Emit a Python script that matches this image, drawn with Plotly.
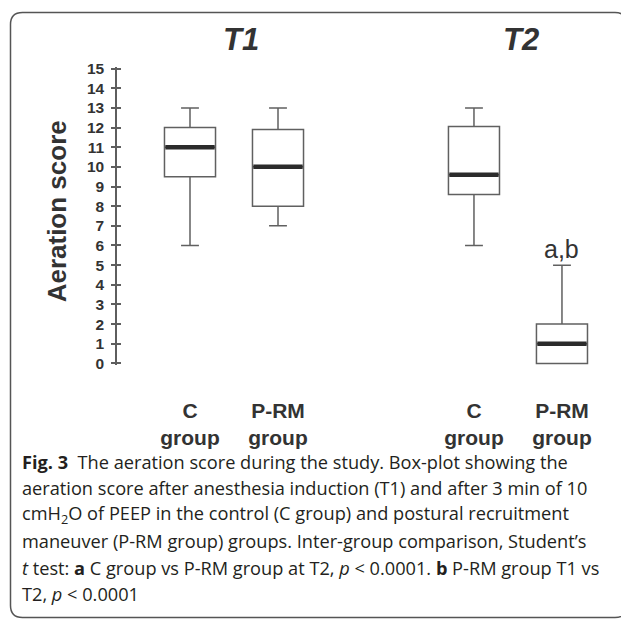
import plotly.graph_objects as go

# ---- data ----
groups = ["C group T1", "P-RM group T1", "C group T2", "P-RM group T2"]
positions = [1.0, 2.0, 4.227, 5.227]
lower_fence = [6, 7, 6, 0]
q1_vals = [9.5, 8, 8.6, 0]
medians = [11, 10, 9.6, 1]
q3_vals = [12, 11.9, 12.05, 2]
upper_fence = [13, 13, 13, 5]
x_tick_labels = ["C<br>group", "P-RM<br>group", "C<br>group", "P-RM<br>group"]
y_ticks = list(range(0, 16))
time_labels = ["T1", "T2"]
sig_label = "a,b"
caption_lines = [
    "<b>Fig. 3</b>  The aeration score during the study. Box-plot showing the",
    "aeration score after anesthesia induction (T1) and after 3 min of 10",
    "cmH<sub>2</sub>O of PEEP in the control (C group) and postural recruitment",
    "maneuver (P-RM group) groups. Inter-group comparison, Student’s",
    "<i>t</i> test: <b>a</b> C group vs P-RM group at T2, <i>p</i> &lt; 0.0001. <b>b</b> P-RM group T1 vs",
    "T2, <i>p</i> &lt; 0.0001",
]

# ---- layout geometry (pixels; page body adds an 8px offset) ----
OFF = 8
W, H = 621, 611
ML, MR, MT, MB = 109, 19, 59.4, 254.1
PW = W - ML - MR
PH = H - MT - MB
BOX_W = 0.58
FONT = "Liberation Sans, Arial, sans-serif"
AX = "#5e5e5e"
TXT = "#333333"


def px(x, y):
    """window pixel -> paper coords"""
    return (x - OFF - ML) / PW, (H - MB - (y - OFF)) / PH


fig = go.Figure()

fig.add_trace(go.Box(
    x=positions, q1=q1_vals, median=medians, q3=q3_vals,
    lowerfence=lower_fence, upperfence=upper_fence,
    width=BOX_W, whiskerwidth=0.35, boxpoints=False,
    line=dict(color="#606060", width=1.5), fillcolor="white",
    hoverinfo="skip", showlegend=False,
))

# thick median bars
mx, my = [], []
for p, m in zip(positions, medians):
    mx += [p - BOX_W / 2 + 0.01, p + BOX_W / 2 - 0.01, None]
    my += [m, m, None]
fig.add_trace(go.Scatter(x=mx, y=my, mode="lines",
                         line=dict(color="#2b2b2b", width=4.5),
                         hoverinfo="skip", showlegend=False))

# invisible trace to carry the inside-tick overlay axis
fig.add_trace(go.Scatter(x=[positions[0]], y=[0], yaxis="y2", mode="markers",
                         marker=dict(opacity=0), hoverinfo="skip", showlegend=False))

yr = [-0.08, 15.08]
xr = [0.1705, 0.1705 + PW / 88.0]

fig.update_layout(
    width=W, height=H,
    margin=dict(l=ML, r=MR, t=MT, b=MB, pad=0, autoexpand=False),
    paper_bgcolor="white", plot_bgcolor="white",
    showlegend=False,
    xaxis=dict(range=xr, showgrid=False, zeroline=False, showline=False,
               tickvals=positions, ticktext=x_tick_labels, ticks="",
               ticklabelstandoff=31,
               tickfont=dict(family=FONT, size=21, color=TXT, weight="bold")),
    yaxis=dict(range=yr, showgrid=False, zeroline=False, showline=True,
               linecolor=AX, linewidth=1.5,
               tickvals=y_ticks, ticks="outside", ticklen=4, tickwidth=1.5,
               tickcolor=AX, ticklabelstandoff=4,
               tickfont=dict(family=FONT, size=15.5, color=TXT, weight="bold")),
    yaxis2=dict(range=yr, overlaying="y", side="left", showgrid=False,
                zeroline=False, showline=False, tickvals=y_ticks,
                ticks="inside", ticklen=4, tickwidth=1.5, tickcolor=AX,
                showticklabels=False),
)

ann = []
# y axis title
ax_, ay_ = px(57, 211.5)
ann.append(dict(xref="paper", yref="paper", x=ax_, y=ay_, text="<b>Aeration score</b>",
                textangle=-90, showarrow=False, xanchor="center", yanchor="middle",
                font=dict(family=FONT, size=26, color=TXT)))
# T1 / T2 headers
for lab, cx in zip(time_labels, [241, 521]):
    tx, ty = px(cx, 40)
    ann.append(dict(xref="paper", yref="paper", x=tx, y=ty, text="<b><i>%s</i></b>" % lab,
                    showarrow=False, xanchor="center", yanchor="middle",
                    font=dict(family=FONT, size=31, color=TXT)))
# significance label over the last box
ann.append(dict(xref="x", yref="y", x=positions[3], y=upper_fence[3], text=sig_label,
                showarrow=False, xanchor="center", yanchor="bottom", yshift=0,
                font=dict(family=FONT, size=25, color=TXT)))
# caption
baselines = [468, 494, 520, 547, 574, 600]
for line, b in zip(caption_lines, baselines):
    cx, cy = px(20, b - 6)
    ann.append(dict(xref="paper", yref="paper", x=cx, y=cy, text=line,
                    showarrow=False, xanchor="left", yanchor="middle",
                    font=dict(family="Open Sans, sans-serif", size=18.2, color="#231f20")))
fig.update_layout(annotations=ann)

# rounded frame around the figure
L, T, R, B, r = 10.5, 13, 627, 617, 12
pts = lambda x, y: "%.5f,%.5f" % px(x, y)
path = ("M " + pts(L + r, T) + " L " + pts(R - r, T) + " Q " + pts(R, T) + " " + pts(R, T + r) +
        " L " + pts(R, B - r) + " Q " + pts(R, B) + " " + pts(R - r, B) +
        " L " + pts(L + r, B) + " Q " + pts(L, B) + " " + pts(L, B - r) +
        " L " + pts(L, T + r) + " Q " + pts(L, T) + " " + pts(L + r, T) + " Z")
fig.add_shape(type="path", path=path, xref="paper", yref="paper",
              line=dict(color="#555555", width=1.5), layer="above")

fig.write_html("out.html")
